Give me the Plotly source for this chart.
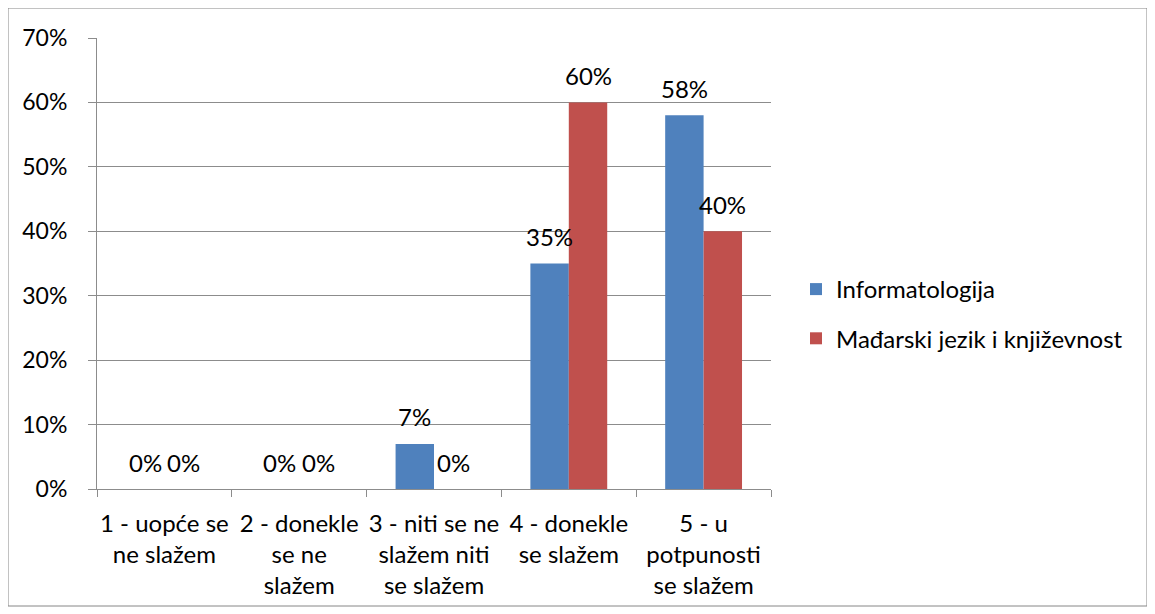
import plotly.graph_objects as go

categories = ["1 - uopće se<br>ne slažem", "2 - donekle<br>se ne<br>slažem", "3 - niti se ne<br>slažem niti<br>se slažem",
              "4 - donekle<br>se slažem", "5 - u<br>potpunosti<br>se slažem"]
series_names = ["Informatologija", "Mađarski jezik i književnost"]
informatologija = [0, 0, 7, 35, 58]
madarski = [0, 0, 0, 60, 40]
colors = ["#4F81BD", "#C0504D"]
y_ticks = [0, 10, 20, 30, 40, 50, 60, 70]

FONT = "Lato"
FS = 24
OFF = 8  # page body margin
W, H = 1155 - OFF, 614 - OFF
L, R, T, B = 97 - OFF, 771 - OFF, 38 - OFF, 489 - OFF

fig = go.Figure()
for i, (name, vals) in enumerate([(series_names[0], informatologija), (series_names[1], madarski)]):
    fig.add_trace(go.Bar(x=categories, y=vals, name=name, marker=dict(color=colors[i], line=dict(width=0)),
                         legendgroup=name))

bar_w = (R - L) / 5 * (1 - 0.43) / 2
for i, vals in enumerate([informatologija, madarski]):
    shift = (-0.5 if i == 0 else 0.5) * bar_w
    for c, v in zip(categories, vals):
        fig.add_annotation(x=c, y=v, text=f"{v}%", showarrow=False, xshift=shift, yshift=27,
                           font=dict(family=FONT, size=FS, color="#000"))

pw = R - L
ph = B - T
fig.add_shape(type="rect", xref="paper", yref="paper",
              x0=(8 - 97) / pw, x1=(1147 - 97) / pw, y0=(489 - 606) / ph, y1=(489 - 8) / ph,
              line=dict(color="#868686", width=1), layer="below")

fig.update_layout(
    width=W, height=H,
    margin=dict(l=L, r=W - R, t=T, b=H - B, autoexpand=False),
    paper_bgcolor="white", plot_bgcolor="white",
    barmode="group", bargap=0.43, bargroupgap=0,
    font=dict(family=FONT, size=FS, color="#000"),
    legend=dict(x=(796 - 97) / pw, y=(489 - 314) / ph, xanchor="left", yanchor="middle",
                font=dict(family=FONT, size=FS), tracegroupgap=15, traceorder="grouped",
                bgcolor="rgba(0,0,0,0)"),
    showlegend=True,
)
fig.update_yaxes(range=[0, 70], tickvals=y_ticks, ticktext=[f"{v}%" for v in y_ticks],
                 tickfont=dict(size=23),
                 showgrid=True, gridcolor="#8C8C8C", gridwidth=1,
                 showline=True, linecolor="#8C8C8C", linewidth=1,
                 ticks="outside", ticklen=8, tickcolor="#8C8C8C", ticklabelstandoff=16,
                 zeroline=False, fixedrange=True)
fig.update_xaxes(showline=True, linecolor="#8C8C8C", linewidth=1,
                 ticks="outside", ticklen=7, tickcolor="#8C8C8C", tickson="boundaries",
                 tickangle=0, ticklabelstandoff=13, fixedrange=True)

fig.write_html("out.html")
